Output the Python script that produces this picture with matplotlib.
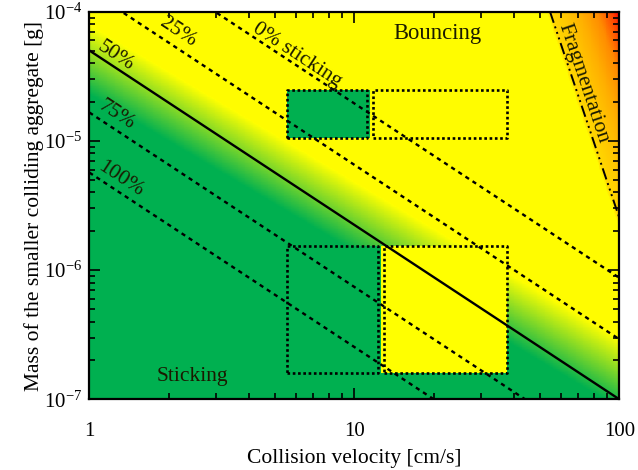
import numpy as np
import matplotlib
matplotlib.use("Agg")
import matplotlib.pyplot as plt
from matplotlib.colors import LinearSegmentedColormap

plt.rcParams["font.family"] = ["Liberation Serif", "DejaVu Serif"]
plt.rcParams["mathtext.fontset"] = "custom"
plt.rcParams["mathtext.rm"] = "Liberation Serif"
plt.rcParams["mathtext.it"] = "Liberation Serif:italic"

# --- model parameters ------------------------------------------------------
# sticking-probability contours: log10(m) = intercept - slope * log10(v)
stick_slope = 1.35
stick_labels = ["0% sticking", "25%", "50%", "75%", "100%"]
stick_intercepts = [-3.36, -3.835, -4.30, -4.78, -5.245]
stick_styles = ["dash", "dash", "solid", "dash", "dash"]
# label anchor points (velocity [cm/s], mass [g])
stick_label_v = [6.1, 2.16, 1.262, 1.262, 1.318]
stick_label_m = [4.6e-5, 7.0e-5, 4.5e-5, 1.57e-5, 5.1e-6]

# centre and half-width of the green->yellow transition
blend_intercept = -4.37
blend_slope = 1.215
blend_halfwidth = 0.27

# fragmentation threshold: log10(m) = -4 - frag_slope * (log10(v) - frag_logv0)
frag_logv0 = 1.7385
frag_slope = 6.1

# laboratory parameter ranges (velocity [cm/s], mass [g])
box_upper_stick_v = [5.57, 11.16]
box_upper_bounce_v = [11.77, 37.7]
box_upper_m = [1.05e-5, 2.48e-5]
box_lower_stick_v = [5.57, 12.32]
box_lower_bounce_v = [12.98, 37.7]
box_lower_m = [1.6e-7, 1.54e-6]

green = (0 / 255, 176 / 255, 80 / 255)
yellow = (1.0, 1.0, 0.0)

# --- background field ------------------------------------------------------
lv = np.linspace(0, 2, 600)
lm = np.linspace(-7, -4, 600)
LV, LM = np.meshgrid(lv, lm)
d = LM - (blend_intercept - blend_slope * LV)
t_stick = np.clip((d + blend_halfwidth) / (2 * blend_halfwidth), 0, 1)
lv_frag = frag_logv0 + (-4 - LM) / frag_slope
w = LV - lv_frag
t_frag = np.clip((w + 0.015) / 0.275, 0, 1)
z = t_stick + t_frag

cmap = LinearSegmentedColormap.from_list("regimes", [
    (0.0, green),
    (0.5, yellow),
    (0.525, (1.0, 215 / 255, 0)),
    (0.615, (1.0, 200 / 255, 0)),
    (0.735, (1.0, 175 / 255, 0)),
    (0.85, (1.0, 140 / 255, 0)),
    (0.96, (1.0, 60 / 255, 0)),
    (1.0, (1.0, 0, 0)),
])

fig = plt.figure(figsize=(6.38, 4.70), dpi=100)
ax = fig.add_axes([0.14, 0.1504, 0.8307, 0.8247])
ax.pcolormesh(10 ** lv, 10 ** lm, z, cmap=cmap, vmin=0, vmax=2,
              shading="auto", rasterized=True, zorder=0)

ax.set_xscale("log")
ax.set_yscale("log")
ax.set_xlim(1, 100)
ax.set_ylim(1e-7, 1e-4)

# --- experiment boxes ------------------------------------------------------
def box(vr, mr):
    xs = [vr[0], vr[1], vr[1], vr[0], vr[0]]
    ys = [mr[0], mr[0], mr[1], mr[1], mr[0]]
    ax.plot(xs, ys, color="k", lw=1.9, ls=(0, (1, 1)), zorder=3)

def patch(v0, v1, mr, color):
    ax.fill([v0, v1, v1, v0], [mr[0], mr[0], mr[1], mr[1]], color=color, lw=0, zorder=1)

patch(box_upper_stick_v[0], 11.46, box_upper_m, green)
box(box_upper_stick_v, box_upper_m)
box(box_upper_bounce_v, box_upper_m)

patch(box_lower_stick_v[0], 12.6, box_lower_m, green)
patch(12.6, box_lower_bounce_v[1], box_lower_m, yellow)
box(box_lower_stick_v, box_lower_m)
box(box_lower_bounce_v, box_lower_m)

# --- sticking contours -----------------------------------------------------
v = np.logspace(0, 2, 200)
for c, style in zip(stick_intercepts, stick_styles):
    m = 10 ** (c - stick_slope * np.log10(v))
    if style == "solid":
        ax.plot(v, m, color="k", lw=1.7, zorder=4)
    else:
        ax.plot(v, m, color="k", lw=1.7, ls=(0, (1.8, 1.8)), zorder=4)

# fragmentation threshold
lm_f = np.linspace(-4, -5.7, 50)
v_f = 10 ** (frag_logv0 + (-4 - lm_f) / frag_slope)
ax.plot(v_f, 10 ** lm_f, color="k", lw=1.4,
        ls=(0, (6, 2, 1, 2, 1, 2, 1, 2)), zorder=4)

# --- labels ----------------------------------------------------------------
fs = 15.5
ang = -np.degrees(np.arctan(stick_slope * 129.2 / 265.0))
for lab, lx, ly in zip(stick_labels, stick_label_v, stick_label_m):
    ax.text(lx, ly, lab, rotation=ang, fontsize=fs, color="#1a1a00",
            ha="center", va="center", rotation_mode="anchor", zorder=5)

ax.text(20.6, 6.83e-5, "Bouncing", fontsize=16.3, color="#1a1a00",
        ha="center", va="center", zorder=5)
ax.text(2.455, 1.51e-7, "Sticking", fontsize=fs, color="#1a1a00",
        ha="center", va="center", zorder=5)
frag_ang = -np.degrees(np.arctan(frag_slope * 129.2 / 265.0))
ax.text(73.5, 2.8e-5, "Fragmentation", rotation=frag_ang, fontsize=fs,
        color="#1a1a00", ha="center", va="center", rotation_mode="anchor", zorder=5)

# --- axes styling ----------------------------------------------------------
ax.set_xticks([1, 10, 100])
ax.set_xticklabels(["1", "10", "100"])
ax.tick_params(which="both", direction="in", top=True, right=True,
               labelsize=15, width=1.2, color="k")
ax.tick_params(which="major", length=8)
ax.tick_params(which="minor", length=4.5)
ax.tick_params(axis="x", which="major", pad=16)
ax.tick_params(axis="y", which="major", pad=5)
for s in ax.spines.values():
    s.set_linewidth(1.6)

ax.set_xlabel("Collision velocity [cm/s]", fontsize=15.5, labelpad=6)
ax.set_ylabel("Mass of the smaller colliding aggregate [g]", fontsize=15.5, labelpad=0)

fig.savefig("out.png", dpi=100)
